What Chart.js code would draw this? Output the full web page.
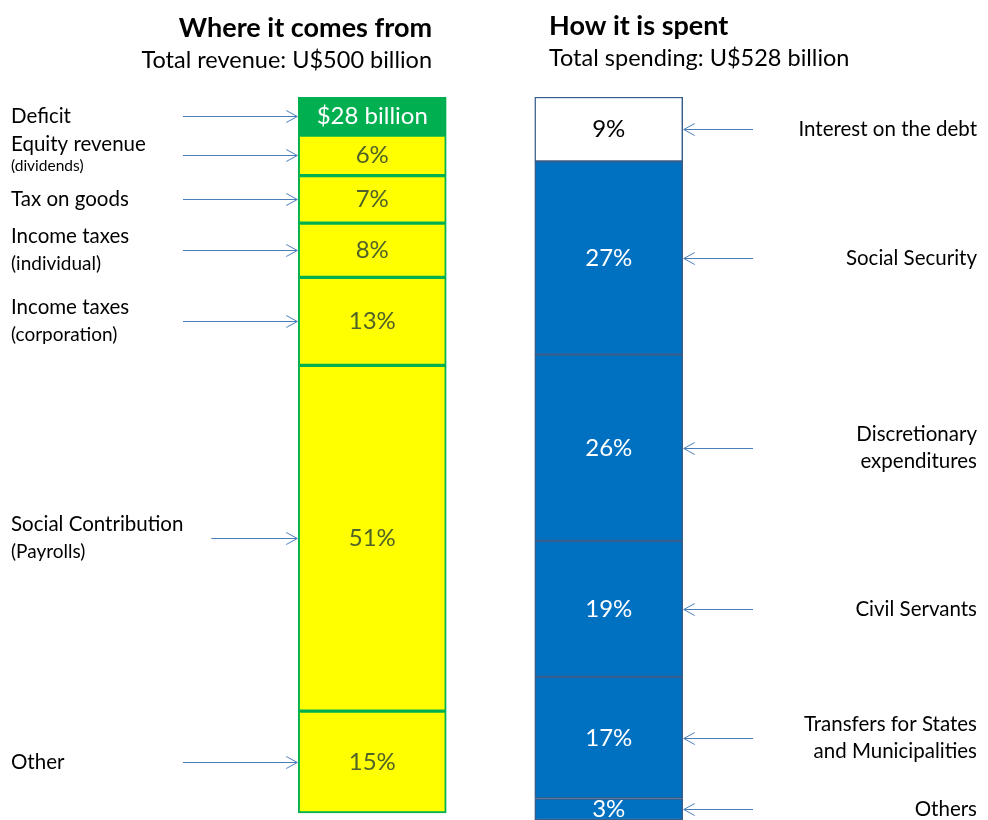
<!DOCTYPE html>
<html>
<head>
<meta charset="utf-8">
<script src="https://cdn.jsdelivr.net/npm/chart.js@4/dist/chart.umd.min.js"></script>
<style>
  html, body { margin: 0; padding: 0; background: #ffffff; overflow: hidden; }
  #wrap { width: 988px; height: 820px; position: relative; }
</style>
</head>
<body>
<div id="wrap"><canvas id="budget" width="988" height="820"></canvas></div>
<script>
// Federal budget: where the money comes from and how it is spent (U$ billion / shares)
const columns = ['Where it comes from', 'How it is spent'];
const revenueTotal = 500;   // U$ billion
const spendingTotal = 528;  // U$ billion
const deficit = 28;         // U$ billion

const revenueNames = [
  ['Equity revenue', '(dividends)'],
  ['Tax on goods'],
  ['Income taxes', '(individual)'],
  ['Income taxes', '(corporation)'],
  ['Social Contribution', '(Payrolls)'],
  ['Other']
];
const revenueShares = [6, 7, 8, 13, 51, 15];   // % of revenue

const spendingNames = [
  ['Interest on the debt'],
  ['Social Security'],
  ['Discretionary', 'expenditures'],
  ['Civil Servants'],
  ['Transfers for States', 'and Municipalities'],
  ['Others']
];
const spendingShares = [9, 27, 26, 19, 17, 3];  // % of spending

// ---- styling ----
const FONT = 'Lato, "Open Sans", "Liberation Sans", sans-serif';
const GREEN = '#00b050', YELLOW = '#ffff00', BLUE = '#0070c0', OUTLINE = '#385d8a';
const ARROW = '#4a7ebb';

// Build one stacked segment per item; revenue in the first column, spending in the second.
const segments = [];
segments.push({ names: ['Deficit'], side: 'left', value: deficit,
  text: '$' + deficit + ' billion', fill: GREEN, edge: GREEN, ink: '#ffffff', width: 2 });
revenueShares.forEach((p, i) => segments.push({
  names: revenueNames[i], side: 'left', value: p / 100 * revenueTotal,
  text: p + '%', fill: YELLOW, edge: GREEN, ink: '#4f6228', width: 2,
  note: i === 0 ? 'small' : 'paren'
}));
spendingShares.forEach((p, i) => segments.push({
  names: spendingNames[i], side: 'right', value: p / 100 * spendingTotal,
  text: p + '%', fill: i === 0 ? '#ffffff' : BLUE, edge: OUTLINE,
  ink: i === 0 ? '#000000' : '#ffffff', width: 1.5, note: 'same'
}));

const leftSum = segments.filter(s => s.side === 'left').reduce((a, s) => a + s.value, 0);
const rightSum = segments.filter(s => s.side === 'right').reduce((a, s) => a + s.value, 0);

const datasets = segments.map(s => ({
  label: s.names.join(' '),
  data: s.side === 'left' ? [s.value, null] : [null, s.value],
  backgroundColor: s.fill,
  borderColor: s.edge,
  borderWidth: s.width,
  borderSkipped: false,
  barThickness: 148
}));

function drawArrow(ctx, x0, y, x1) {
  const d = Math.sign(x1 - x0);
  ctx.save();
  ctx.strokeStyle = ARROW;
  ctx.lineWidth = 1;
  ctx.beginPath();
  ctx.moveTo(x0, y + 0.5); ctx.lineTo(x1, y + 0.5);
  ctx.stroke();
  ctx.beginPath();
  ctx.moveTo(x1 - d * 11, y - 5.5); ctx.lineTo(x1, y + 0.5); ctx.lineTo(x1 - d * 11, y + 6.5);
  ctx.stroke();
  ctx.restore();
}

const NOTE_SIZE = { small: 15.5, paren: 19, same: 20.5 };
const NOTE_GAP = { small: 22, paren: 27, same: 27 };

// Percent text inside each segment plus the captions and arrows beside the bars.
const annotations = {
  id: 'annotations',
  afterDatasetsDraw(chart) {
    const { ctx, chartArea } = chart;
    segments.forEach((s, di) => {
      const idx = s.side === 'left' ? 0 : 1;
      const el = chart.getDatasetMeta(di).data[idx];
      if (!el) return;
      const { x, y, base, width } = el.getProps(['x', 'y', 'base', 'width'], true);
      const top = Math.max(Math.min(y, base), chartArea.top);
      const bot = Math.min(Math.max(y, base), chartArea.bottom);
      const cy = Math.round((top + bot) / 2);

      // value inside the segment
      ctx.save();
      ctx.fillStyle = s.ink;
      ctx.font = '24px ' + FONT;
      ctx.textAlign = 'center';
      ctx.textBaseline = 'middle';
      ctx.fillText(s.text, x, cy);
      ctx.restore();

      // caption block
      const lines = s.names.map((t, k) => ({
        t, size: k === 0 ? 20.5 : NOTE_SIZE[s.note],
        gap: k === 0 ? 0 : NOTE_GAP[s.note]
      }));
      let span = 0;
      lines.forEach((l, k) => { if (k) span += l.gap; });
      let ly = cy - span / 2;
      ctx.save();
      ctx.fillStyle = '#000000';
      ctx.textBaseline = 'middle';
      let textRight = 0;
      lines.forEach((l, k) => {
        if (k) ly += l.gap;
        ctx.font = l.size + 'px ' + FONT;
        if (s.side === 'left') {
          ctx.textAlign = 'left';
          ctx.fillText(l.t, 11, ly);
          textRight = Math.max(textRight, 11 + ctx.measureText(l.t).width);
        } else {
          ctx.textAlign = 'right';
          ctx.fillText(l.t, 977, ly);
        }
      });
      ctx.restore();

      if (s.side === 'left') {
        const start = Math.max(183, textRight + 28);
        drawArrow(ctx, start, cy, x - width / 2 - 1);
      } else {
        drawArrow(ctx, 753, cy, x + width / 2 + 1);
      }
    });
  },
  afterDraw(chart) {
    const { ctx } = chart;
    ctx.save();
    ctx.fillStyle = '#000000';
    ctx.textBaseline = 'middle';
    ctx.font = 'bold 27px ' + FONT;
    ctx.textAlign = 'right';
    ctx.fillText(columns[0], 432, 28);
    ctx.font = '23.5px ' + FONT;
    ctx.fillText('Total revenue: U$' + revenueTotal + ' billion', 432, 60);
    ctx.textAlign = 'left';
    ctx.font = 'bold 27px ' + FONT;
    ctx.fillText(columns[1], 549, 26);
    ctx.font = '23.5px ' + FONT;
    ctx.fillText('Total spending: U$' + spendingTotal + ' billion', 549, 58);
    ctx.restore();
  }
};

function build() {
  new Chart(document.getElementById('budget'), {
    type: 'bar',
    data: { labels: columns, datasets },
    options: {
      responsive: false,
      animation: false,
      layout: { padding: { left: 254, right: 261, top: 97, bottom: 0 } },
      plugins: { legend: { display: false }, tooltip: { enabled: false } },
      scales: {
        x: { stacked: true, display: false },
        y: { stacked: true, display: false, reverse: true, min: 0,
             max: Math.max(leftSum, rightSum) }
      }
    },
    plugins: [annotations]
  });
}

if (document.fonts && document.fonts.load) {
  Promise.all([
    document.fonts.load('20px Lato'),
    document.fonts.load('bold 27px Lato')
  ]).then(build, build);
} else {
  build();
}
</script>
</body>
</html>
